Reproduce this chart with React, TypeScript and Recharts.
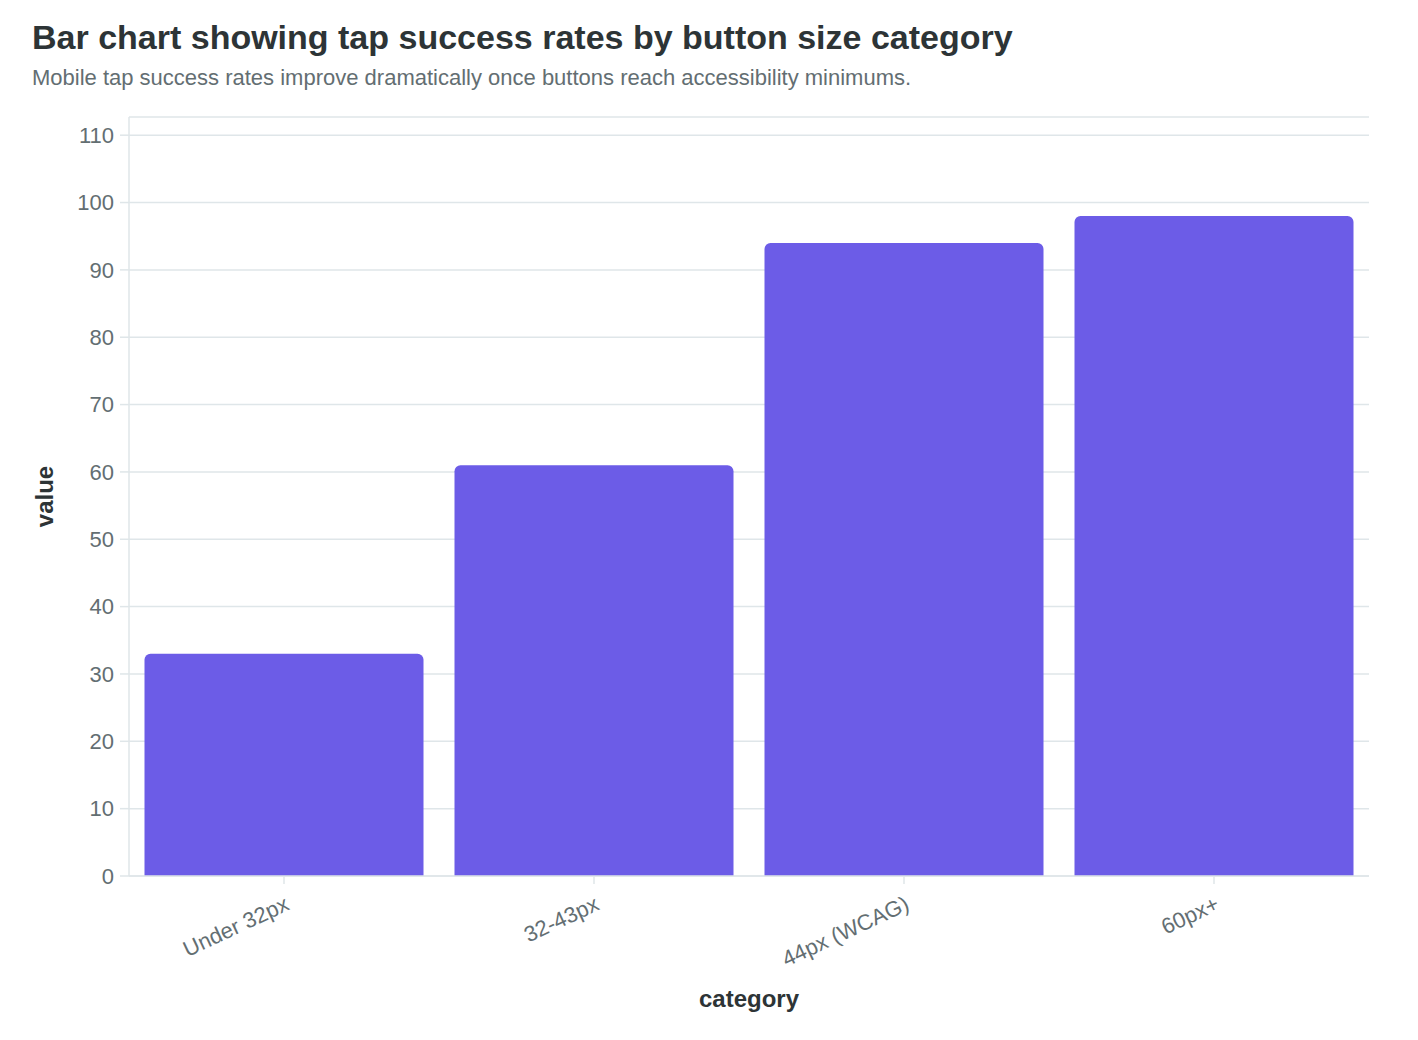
import React from 'react';
import { BarChart, Bar, XAxis, YAxis, CartesianGrid, Label } from 'recharts';

const categories = ['Under 32px', '32-43px', '44px (WCAG)', '60px+'];
const values = [33, 61, 94, 98];
const yTicks = [0, 10, 20, 30, 40, 50, 60, 70, 80, 90, 100, 110];

const FONT = '"Liberation Sans", Arial, Helvetica, sans-serif';
const BAR_COLOR = '#6c5ce7';
const GRID_COLOR = '#dfe6e9';
const TICK_COLOR = '#636e72';

const data = categories.map((category, i) => ({ category, value: values[i] }));

const YAxisTitle = ({ viewBox }: any) => {
  const cx = viewBox.x - 5;
  const cy = viewBox.y + viewBox.height / 2;
  return (
    <text
      x={cx}
      y={cy}
      transform={`rotate(-90 ${cx} ${cy})`}
      textAnchor="middle"
      dominantBaseline="central"
      fontFamily={FONT}
      fontSize={24}
      fontWeight={700}
      fill="#2d3436"
    >
      value
    </text>
  );
};

const App: React.FC = () => {
  return (
    <div style={{ fontFamily: FONT, width: 1402, paddingTop: 10 }}>
      <div style={{ paddingLeft: 24, fontSize: 34, fontWeight: 700, color: '#2d3436', lineHeight: '39px' }}>
        Bar chart showing tap success rates by button size category
      </div>
      <div style={{ paddingLeft: 24, fontSize: 22, color: '#636e72', lineHeight: '25px', marginTop: 8 }}>
        Mobile tap success rates improve dramatically once buttons reach accessibility minimums.
      </div>
      <div style={{ marginTop: 10 }}>
        <BarChart
          width={1402}
          height={930}
          data={data}
          margin={{ top: 17, right: 41, left: 41, bottom: 14 }}
          barCategoryGap="5%"
        >
          <CartesianGrid vertical={false} stroke={GRID_COLOR} strokeWidth={1.5} />
          <XAxis
            dataKey="category"
            height={140}
            interval={0}
            angle={-25}
            textAnchor="end"
            tickSize={8}
            tickMargin={11}
            tick={{ fontSize: 22, fill: TICK_COLOR, fontFamily: FONT }}
            axisLine={{ stroke: GRID_COLOR, strokeWidth: 1.5 }}
            tickLine={{ stroke: GRID_COLOR, strokeWidth: 1.5 }}
          >
            <Label
              value="category"
              position="insideBottom"
              offset={9}
              fontSize={24}
              fontWeight={700}
              fill="#2d3436"
              fontFamily={FONT}
            />
          </XAxis>
          <YAxis
            width={80}
            domain={[0, 112.7]}
            ticks={yTicks}
            interval={0}
            tickSize={9}
            tickMargin={6}
            tick={{ fontSize: 22, fill: TICK_COLOR, fontFamily: FONT }}
            axisLine={{ stroke: GRID_COLOR, strokeWidth: 1.5 }}
            tickLine={{ stroke: GRID_COLOR, strokeWidth: 1.5 }}
          >
            <Label content={<YAxisTitle />} />
          </YAxis>
          <Bar dataKey="value" fill={BAR_COLOR} radius={[6, 6, 0, 0]} isAnimationActive={false} />
        </BarChart>
      </div>
    </div>
  );
};

export default App;
